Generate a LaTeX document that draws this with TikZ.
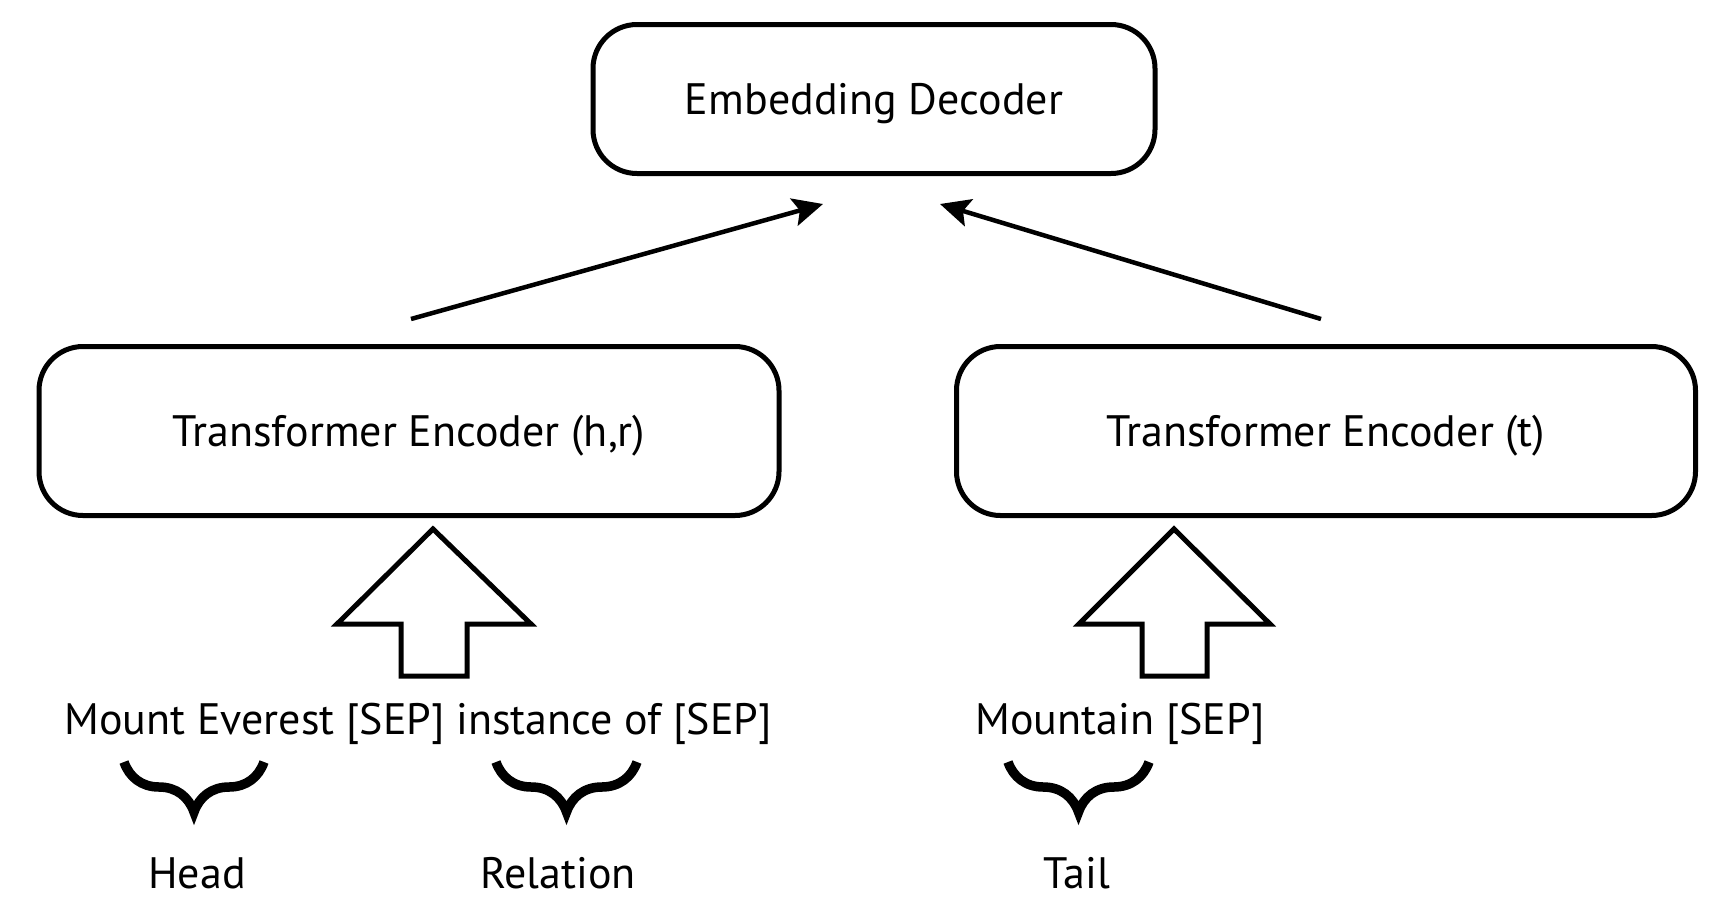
\documentclass[tikz,border=0pt]{standalone}
\usepackage{fontspec}
\setmainfont{PT Sans}
\usetikzlibrary{arrows.meta,decorations.pathreplacing}
\begin{document}
\begin{tikzpicture}[x=1pt,y=-1pt,
  box/.style={draw,line width=5pt,rounded corners=44pt,inner sep=0pt,text depth=0pt,font=\fontsize{44}{50}\selectfont},
  lbl/.style={inner sep=0pt,text depth=0pt,font=\fontsize{44}{50}\selectfont},
  conn/.style={line width=4.5pt,-{Stealth[length=30pt,width=28pt,inset=6pt]}},
  blockarrow/.style={draw,line width=5pt,fill=white,line join=miter},
  brc/.style={decorate,decoration={brace,mirror,amplitude=50pt},line width=9.5pt}]
\useasboundingbox (0,0) rectangle (1732,906);
\node[box,minimum width=562pt,minimum height=149pt] (dec) at (874,99) {Embedding Decoder};
\node[box,minimum width=740pt,minimum height=169pt] (encl) at (409,431) {Transformer Encoder (h,r)};
\node[box,minimum width=739pt,minimum height=169pt] (encr) at (1326,431) {Transformer Encoder (t)};
\coordinate (la) at (411,319);
\coordinate (lb) at (823,204);
\coordinate (ra) at (1321,319);
\coordinate (rb) at (940,204);
\draw[conn] (la) -- (lb);
\draw[conn] (ra) -- (rb);
\draw[blockarrow] (433,529) -- (531,624) -- (467,624) -- (467,676) -- (401,676) -- (401,624) -- (337,624) -- cycle;
\draw[blockarrow] (1174,529) -- (1270,624) -- (1207,624) -- (1207,676) -- (1142,676) -- (1142,624) -- (1079,624) -- cycle;
\node[lbl] (inl) at (418,719) {Mount Everest [SEP] instance of [SEP]};
\node[lbl] (inr) at (1120,719) {Mountain [SEP]};
\draw[brc] (124,762) -- (264,762);
\draw[brc] (496,762) -- (637,762);
\draw[brc] (1008,762) -- (1149,762);
\node[lbl] (head) at (197,873) {Head};
\node[lbl] (rel) at (558,873) {Relation};
\node[lbl] (tail) at (1077,873) {Tail};
\end{tikzpicture}
\end{document}
